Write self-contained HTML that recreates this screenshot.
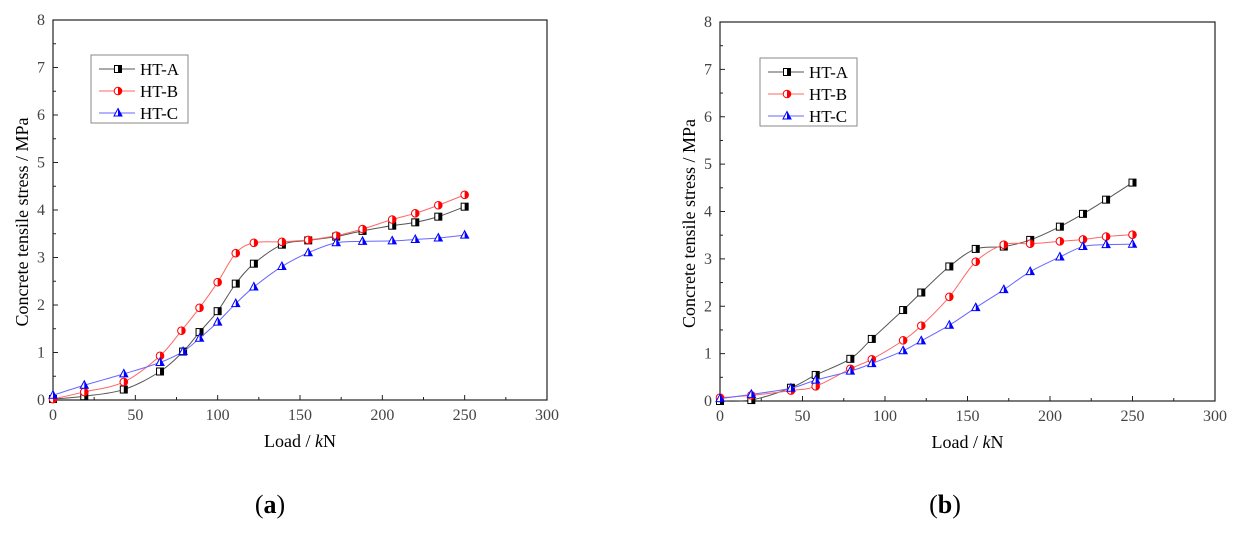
<!DOCTYPE html>
<html><head><meta charset="utf-8"><style>
body{margin:0;background:#fff;width:1243px;height:533px;overflow:hidden}
svg text{font-family:"Liberation Serif",serif}
</style></head><body>
<svg id="fig" width="1243" height="533">
<text x="270" y="513" font-size="26" text-anchor="middle">(<tspan font-weight="bold">a</tspan>)</text>
<text x="945" y="513" font-size="26" text-anchor="middle">(<tspan font-weight="bold">b</tspan>)</text>
</svg>
<script>
const xTicks=[0,50,100,150,200,250,300];
const yTicks=[0,1,2,3,4,5,6,7,8];
const seriesNames=['HT-A','HT-B','HT-C'];
const aLoadA=[0,19,43,65,79,89,100,111,122,139,155,172,188,206,220,234,250];
const aStressA=[0.02,0.08,0.22,0.6,1.02,1.43,1.87,2.45,2.87,3.27,3.36,3.44,3.56,3.67,3.74,3.86,4.07];
const aLoadB=[0,19,43,65,78,89,100,111,122,139,155,172,188,206,220,234,250];
const aStressB=[0.02,0.17,0.38,0.93,1.46,1.94,2.48,3.09,3.31,3.33,3.37,3.46,3.6,3.8,3.93,4.1,4.32];
const aLoadC=[0,19,43,65,79,89,100,111,122,139,155,172,188,206,220,234,250];
const aStressC=[0.1,0.31,0.55,0.79,1.02,1.3,1.64,2.03,2.38,2.81,3.1,3.31,3.34,3.35,3.38,3.41,3.47];
const bLoad=[0,19,43,58,79,92,111,122,139,155,172,188,206,220,234,250];
const bStressA=[0.0,0.02,0.28,0.55,0.89,1.31,1.92,2.29,2.84,3.21,3.26,3.4,3.68,3.95,4.25,4.61];
const bStressB=[0.07,0.12,0.22,0.31,0.68,0.88,1.28,1.59,2.2,2.94,3.3,3.32,3.37,3.41,3.47,3.51];
const bStressC=[0.05,0.14,0.27,0.44,0.63,0.79,1.06,1.27,1.6,1.97,2.35,2.73,3.04,3.26,3.3,3.31];

const NS='http://www.w3.org/2000/svg';
const svg=document.getElementById('fig');
function mk(tag,attrs,parent){const e=document.createElementNS(NS,tag);for(const k in attrs)e.setAttribute(k,attrs[k]);(parent||svg).appendChild(e);return e;}
const colors=['#000','#f00','#00f'];
const lineCols=['#555','#f66','#66f'];

function marker(g,type,cx,cy,i){
  const c=colors[i];
  let m;
  if(type===0){
    m=mk('g',{},g);
    mk('rect',{x:cx-3.5,y:cy-3.5,width:7,height:7,fill:'#fff',stroke:c,'stroke-width':1},m);
    mk('rect',{x:cx,y:cy-3.5,width:3.5,height:7,fill:c},m);
  }else if(type===1){
    m=mk('g',{},g);
    mk('circle',{cx:cx,cy:cy,r:3.8,fill:'#fff',stroke:c,'stroke-width':1},m);
    mk('path',{d:`M${cx},${cy-3.8}A3.8,3.8 0 0 1 ${cx},${cy+3.8}Z`,fill:c},m);
  }else{
    m=mk('g',{},g);
    mk('path',{d:`M${cx},${cy-4.5}L${cx+4},${cy+3}L${cx-4},${cy+3}Z`,fill:'#fff',stroke:c,'stroke-width':1},m);
    mk('path',{d:`M${cx},${cy-4.5}L${cx+4},${cy+3}L${cx},${cy+3}Z`,fill:c},m);
  }
  return m;
}
function smooth(pts){
  let d=`M${pts[0][0]},${pts[0][1]}`;
  for(let i=0;i<pts.length-1;i++){
    const p0=pts[Math.max(0,i-1)],p1=pts[i],p2=pts[i+1],p3=pts[Math.min(pts.length-1,i+2)];
    const c1=[p1[0]+(p2[0]-p0[0])/6,p1[1]+(p2[1]-p0[1])/6];
    const c2=[p2[0]-(p3[0]-p1[0])/6,p2[1]-(p3[1]-p1[1])/6];
    d+=`C${c1[0]},${c1[1]} ${c2[0]},${c2[1]} ${p2[0]},${p2[1]}`;
  }
  return d;
}
function chart(name,x0,x1,yTop,yBot,series,leg){
  const g=mk('g',{});
  
  
  const sx=v=>x0+(v/300)*(x1-x0);
  const sy=v=>yBot-(v/8)*(yBot-yTop);
  const frame=mk('rect',{x:x0,y:yTop,width:x1-x0,height:yBot-yTop,fill:'none',stroke:'#222','stroke-width':1.2},g);
  
  
  xTicks.forEach((t,i)=>{
    const x=sx(t);
    mk('line',{x1:x,y1:yBot,x2:x,y2:yBot-5,stroke:'#222'},g);
    if(i<xTicks.length-1){const xm=sx(t+25);mk('line',{x1:xm,y1:yBot,x2:xm,y2:yBot-3,stroke:'#222'},g);}
    const tl=mk('text',{x:x,y:yBot+20,'font-size':16,'text-anchor':'middle',fill:'#444'},g);
    tl.textContent=t;
    
    
  });
  yTicks.forEach((t,i)=>{
    const y=sy(t);
    mk('line',{x1:x0,y1:y,x2:x0+5,y2:y,stroke:'#222'},g);
    if(i<yTicks.length-1){const ym=sy(t+0.5);mk('line',{x1:x0,y1:ym,x2:x0+3,y2:ym,stroke:'#222'},g);}
    const tl=mk('text',{x:x0-8,y:y+5,'font-size':16,'text-anchor':'end',fill:'#444'},g);
    tl.textContent=t;
    
    
  });
  const xt=mk('text',{x:(x0+x1)/2,y:yBot+47,'font-size':18,'text-anchor':'middle'},g);
  xt.innerHTML='Load / <tspan font-style="italic">k</tspan>N';
  
  
  const yt=mk('text',{x:0,y:0,'font-size':18,'text-anchor':'middle',transform:`translate(${x0-25},${(yTop+yBot)/2+12}) rotate(-90)`},g);
  yt.textContent='Concrete tensile stress / MPa';
  
  
  series.forEach((s,i)=>{
    const pts=s.x.map((v,j)=>[sx(v),sy(s.y[j])]);
    const p=mk('path',{d:smooth(pts),fill:'none',stroke:lineCols[i],'stroke-width':1},g);
    
    
    pts.forEach(pt=>{
      const m=marker(g,i,pt[0],pt[1],i);
      
      
    });
  });
  const lg=mk('g',{},g);
  
  
  mk('rect',{x:leg[0],y:leg[1],width:97,height:68,fill:'#fff',stroke:'#888','stroke-width':1},lg);
  seriesNames.forEach((n,i)=>{
    const y=leg[1]+14+i*22;
    const e=mk('g',{},lg);
    
    
    mk('line',{x1:leg[0]+8,y1:y,x2:leg[0]+44,y2:y,stroke:lineCols[i]},e);
    marker(e,i,leg[0]+27,y,i);
    const t=mk('text',{x:leg[0]+49,y:y+6,'font-size':17},e);
    t.textContent=n;
  });
}
chart('chart-a',53,547,20,400,[{x:aLoadA,y:aStressA},{x:aLoadB,y:aStressB},{x:aLoadC,y:aStressC}],[91,55]);
chart('chart-b',720,1215,22,401,[{x:bLoad,y:bStressA},{x:bLoad,y:bStressB},{x:bLoad,y:bStressC}],[760,58]);
</script>
</body></html>
